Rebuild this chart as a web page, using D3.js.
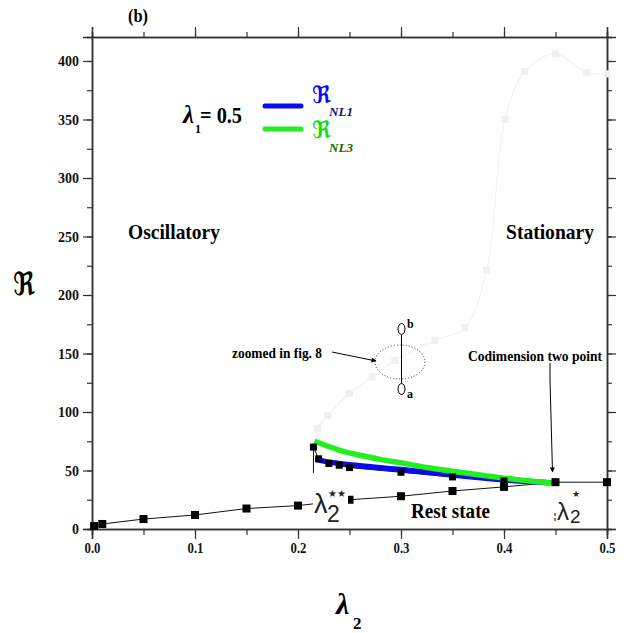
<!DOCTYPE html>
<html><head><meta charset="utf-8">
<script src="https://cdn.jsdelivr.net/npm/d3@7"></script>
<style>body{margin:0;background:#fff}svg{display:block}</style>
</head><body>
<svg id="c" width="629" height="633"></svg>
<script>
// ---- data ----
const xTicks = [0.0, 0.1, 0.2, 0.3, 0.4, 0.5];
const yTicks = [0, 50, 100, 150, 200, 250, 300, 350, 400];
const restLam = [0.002, 0.01, 0.05, 0.1, 0.15, 0.2, 0.25, 0.3, 0.35, 0.4, 0.45, 0.5];
const restR   = [2.5, 4.3, 8.5, 12, 17.5, 20, 25, 28, 32.5, 36, 40, 40];
const upperLam = [0.215, 0.22, 0.23, 0.24, 0.25, 0.3, 0.35, 0.4, 0.45];
const upperR   = [70, 60, 56, 54.5, 52.5, 48.5, 44.5, 41, 40];
const vertLam = [0.215, 0.215];
const vertR   = [70, 48];
const nl1Lam = [0.217, 0.225, 0.24, 0.26, 0.28, 0.3, 0.325, 0.35, 0.375, 0.4, 0.425, 0.445];
const nl1R   = [59.5, 58, 56, 54, 52.3, 50.8, 48.5, 46.2, 44, 42, 40.5, 39.5];
const nl3Lam = [0.216, 0.225, 0.24, 0.26, 0.28, 0.3, 0.325, 0.35, 0.375, 0.4, 0.425, 0.45];
const nl3R   = [75, 72, 67.5, 63, 59.5, 56.5, 52.5, 49.3, 46.3, 43.5, 41, 39];
const grayLam = [0.217, 0.219, 0.229, 0.25, 0.272, 0.294, 0.333, 0.362, 0.383, 0.401, 0.42, 0.45, 0.48, 0.5];
const grayR   = [76, 86, 97, 116, 130, 144, 161, 172, 221, 350, 391, 406, 390, 389];

const svg = d3.select("#c");
const x = d3.scaleLinear().domain([0, 0.5]).range([92, 607]);
const y = d3.scaleLinear().domain([0, 420.5]).range([529, 37]);
const serif = "'Liberation Serif','Times New Roman',serif";
const zip = (a, b) => a.map((v, i) => [v, b[i]]);
const line = d3.line().x(d => x(d[0])).y(d => y(d[1]));

// ---- axes ----
const axCol = "#333";
function styleAxis(g) {
  g.selectAll(".domain").attr("stroke", axCol).attr("stroke-width", 1.5);
  g.selectAll(".tick line").attr("stroke", axCol).attr("stroke-width", 1.2);
}
const xMinor = d3.range(0, 0.501, 0.05);
const yMinor = d3.range(0, 420, 25);
// bottom
svg.append("g").attr("transform", "translate(0,529)")
  .call(d3.axisBottom(x).tickValues(xMinor).tickSize(6).tickFormat("")).call(styleAxis);
const gb = svg.append("g").attr("transform", "translate(0,529)")
  .call(d3.axisBottom(x).tickValues(xTicks).tickSize(10).tickFormat(d3.format(".1f"))).call(styleAxis);
gb.selectAll("text").attr("font-family", serif).attr("font-weight", "bold").attr("font-size", 15)
  .attr("fill", "#111").attr("y", 13).attr("textLength", 16).attr("lengthAdjust", "spacingAndGlyphs");
// top
svg.append("g").attr("transform", "translate(0,37)")
  .call(d3.axisTop(x).tickValues(xMinor).tickSize(5).tickFormat("")).call(styleAxis);
svg.append("g").attr("transform", "translate(0,37)")
  .call(d3.axisTop(x).tickValues(xTicks).tickSize(10).tickFormat("")).call(styleAxis);
// left
svg.append("g").attr("transform", "translate(92,0)")
  .call(d3.axisLeft(y).tickValues(yMinor).tickSize(5).tickFormat("")).call(styleAxis);
const gl = svg.append("g").attr("transform", "translate(92,0)")
  .call(d3.axisLeft(y).tickValues(yTicks).tickSize(9).tickFormat(d3.format("d"))).call(styleAxis);
gl.selectAll("text").attr("font-family", serif).attr("font-weight", "bold").attr("font-size", 15)
  .attr("fill", "#111").attr("x", -13)
  .attr("textLength", d => String(d).length * 7).attr("lengthAdjust", "spacingAndGlyphs");
// right
svg.append("g").attr("transform", "translate(607,0)")
  .call(d3.axisRight(y).tickValues(yMinor).tickSize(5).tickFormat("")).call(styleAxis);
svg.append("g").attr("transform", "translate(607,0)")
  .call(d3.axisRight(y).tickValues(yTicks).tickSize(9).tickFormat("")).call(styleAxis);

// ---- faint gray curve ----
svg.append("path").datum(zip(grayLam, grayR))
  .attr("d", line.curve(d3.curveCatmullRom.alpha(0.5)))
  .attr("fill", "none").attr("stroke", "#f3f3f3").attr("stroke-width", 1.2);
line.curve(d3.curveLinear);
svg.append("g").selectAll("rect").data(zip(grayLam, grayR).slice(1)).join("rect")
  .attr("x", d => x(d[0]) - 3.5).attr("y", d => y(d[1]) - 3.5)
  .attr("width", 7).attr("height", 7).attr("fill", "#f0f0f0");

// ---- rest-state line ----
svg.append("path").datum(zip(restLam, restR)).attr("d", line)
  .attr("fill", "none").attr("stroke", "#111").attr("stroke-width", 1);
svg.append("path").datum(zip(upperLam, upperR)).attr("d", line)
  .attr("fill", "none").attr("stroke", "#111").attr("stroke-width", 1);
svg.append("path").datum(zip(vertLam, vertR)).attr("d", line)
  .attr("fill", "none").attr("stroke", "#111").attr("stroke-width", 1);

// ---- NL curves ----
svg.append("path").datum(zip(nl1Lam, nl1R)).attr("d", line.curve(d3.curveMonotoneX))
  .attr("fill", "none").attr("stroke", "#0a0aee").attr("stroke-width", 5.5);
svg.append("path").datum(zip(nl3Lam, nl3R)).attr("d", line.curve(d3.curveMonotoneX))
  .attr("fill", "none").attr("stroke", "#22ee22").attr("stroke-width", 5.5);
line.curve(d3.curveLinear);

// squares
svg.append("g").selectAll("rect").data(zip(upperLam, upperR)).join("rect")
  .attr("x", d => x(d[0]) - 3.5).attr("y", d => y(d[1]) - 3.5)
  .attr("width", 7).attr("height", 7).attr("fill", "#000");
svg.append("g").selectAll("rect").data(zip(restLam, restR)).join("rect")
  .attr("x", d => x(d[0]) - 4).attr("y", d => y(d[1]) - 4)
  .attr("width", 8).attr("height", 8).attr("fill", "#000");

// ---- annotations ----
svg.append("text").attr("x", 128).attr("y", 22).attr("font-family", serif).attr("font-weight", "bold")
  .attr("font-size", 18).attr("textLength", 20).attr("lengthAdjust", "spacingAndGlyphs").text("(b)");

// lambda1 = 0.5
svg.append("text").attr("x", 183).attr("y", 123).attr("font-family", serif).attr("font-weight", "bold")
  .attr("font-style", "italic").attr("font-size", 25).text("λ");
svg.append("text").attr("x", 195).attr("y", 133).attr("font-family", serif).attr("font-weight", "bold")
  .attr("font-size", 12).text("1");
svg.append("text").attr("x", 200).attr("y", 123).attr("font-family", serif).attr("font-weight", "bold")
  .attr("font-size", 24).attr("textLength", 42).attr("lengthAdjust", "spacingAndGlyphs").text("= 0.5");

// legend
const frak = "'DejaVu Serif','DejaVu Sans',serif";
svg.append("line").attr("x1", 265).attr("x2", 301).attr("y1", 106).attr("y2", 106)
  .attr("stroke", "#0a0aee").attr("stroke-width", 5).attr("stroke-linecap", "round");
svg.append("line").attr("x1", 265).attr("x2", 301).attr("y1", 129).attr("y2", 129)
  .attr("stroke", "#22ee22").attr("stroke-width", 5).attr("stroke-linecap", "round");
svg.append("text").attr("x", 312).attr("y", 103).attr("font-family", frak).attr("font-size", 24)
  .attr("font-weight", "bold").attr("fill", "#0a0aee")
  .attr("textLength", 19).attr("lengthAdjust", "spacingAndGlyphs").text("ℜ");
svg.append("text").attr("x", 329).attr("y", 116).attr("font-family", serif).attr("font-weight", "bold")
  .attr("font-style", "italic").attr("font-size", 12).attr("fill", "#101080")
  .attr("textLength", 24).attr("lengthAdjust", "spacingAndGlyphs").text("NL1");
svg.append("text").attr("x", 312).attr("y", 138).attr("font-family", frak).attr("font-size", 24)
  .attr("font-weight", "bold").attr("fill", "#10dd10")
  .attr("textLength", 19).attr("lengthAdjust", "spacingAndGlyphs").text("ℜ");
svg.append("text").attr("x", 329).attr("y", 152).attr("font-family", serif).attr("font-weight", "bold")
  .attr("font-style", "italic").attr("font-size", 12).attr("fill", "#0a6a0a")
  .attr("textLength", 24).attr("lengthAdjust", "spacingAndGlyphs").text("NL3");

// region labels
function lab(t, x0, y0, fs, w) {
  return svg.append("text").attr("x", x0).attr("y", y0).attr("font-family", serif).attr("font-weight", "bold")
    .attr("font-size", fs).attr("textLength", w).attr("lengthAdjust", "spacingAndGlyphs").attr("fill", "#000").text(t);
}
lab("Oscillatory", 128, 239, 21, 92);
lab("Stationary", 506, 239, 21, 88);
lab("Rest state", 411, 518, 22, 79);
lab("zoomed in fig. 8", 232, 358, 14, 90);
lab("Codimension two point", 468, 361, 14, 134);

// arrows
const defs = svg.append("defs");
defs.append("marker").attr("id", "ah").attr("viewBox", "0 0 10 10").attr("refX", 9).attr("refY", 5)
  .attr("markerWidth", 7).attr("markerHeight", 5).attr("orient", "auto")
  .append("path").attr("d", "M0,0 L10,5 L0,10 z").attr("fill", "#000");
svg.append("line").attr("x1", 332).attr("y1", 352).attr("x2", 376).attr("y2", 361)
  .attr("stroke", "#000").attr("stroke-width", 1).attr("marker-end", "url(#ah)");
svg.append("path").attr("d", "M550,363 L550,380 L552.5,472")
  .attr("fill", "none").attr("stroke", "#000").attr("stroke-width", 1).attr("marker-end", "url(#ah)");

// zoom ellipse + a/b
svg.append("ellipse").attr("cx", 400).attr("cy", 362).attr("rx", 25).attr("ry", 17)
  .attr("fill", "none").attr("stroke", "#333").attr("stroke-width", 1).attr("stroke-dasharray", "1,2");
svg.append("line").attr("x1", 401.5).attr("x2", 401.5).attr("y1", 335).attr("y2", 383)
  .attr("stroke", "#000").attr("stroke-width", 1);
svg.append("ellipse").attr("cx", 401.5).attr("cy", 329).attr("rx", 3.5).attr("ry", 5.5)
  .attr("fill", "#fff").attr("stroke", "#000").attr("stroke-width", 1);
svg.append("ellipse").attr("cx", 401.5).attr("cy", 389).attr("rx", 3.5).attr("ry", 5.5)
  .attr("fill", "#fff").attr("stroke", "#000").attr("stroke-width", 1);
svg.append("text").attr("x", 407).attr("y", 328).attr("font-family", serif).attr("font-weight", "bold")
  .attr("font-size", 12).text("b");
svg.append("text").attr("x", 407).attr("y", 398).attr("font-family", serif).attr("font-weight", "bold")
  .attr("font-size", 12).text("a");

// lambda2** label (white background covers line)
const sans = "'Liberation Sans','DejaVu Sans',sans-serif";
svg.append("rect").attr("x", 313).attr("y", 486).attr("width", 35).attr("height", 38).attr("fill", "#fff");
svg.append("text").attr("x", 314).attr("y", 513).attr("font-family", sans).attr("font-size", 27)
  .attr("font-weight", 300).attr("fill", "#222").text("λ");
svg.append("text").attr("x", 327).attr("y", 522).attr("font-family", sans).attr("font-size", 23)
  .attr("fill", "#222").text("2");
svg.append("text").attr("x", 328).attr("y", 497).attr("font-family", "'DejaVu Sans',sans-serif").attr("font-size", 10)
  .attr("fill", "#222").text("★★");
// lambda2* label
svg.append("line").attr("x1", 555).attr("x2", 555).attr("y1", 513).attr("y2", 523)
  .attr("stroke", "#000").attr("stroke-width", 1).attr("stroke-dasharray", "3,2");
svg.append("text").attr("x", 557).attr("y", 520).attr("font-family", sans).attr("font-size", 24)
  .attr("fill", "#222").text("λ");
svg.append("text").attr("x", 570).attr("y", 523).attr("font-family", sans).attr("font-size", 19)
  .attr("fill", "#222").text("2");
svg.append("text").attr("x", 572).attr("y", 497).attr("font-family", "'DejaVu Sans',sans-serif").attr("font-size", 9)
  .attr("fill", "#222").text("★");

// axis titles
svg.append("text").attr("x", 13).attr("y", 295).attr("font-family", frak).attr("font-size", 32)
  .attr("font-weight", "bold").attr("fill", "#000")
  .attr("textLength", 22).attr("lengthAdjust", "spacingAndGlyphs").text("ℜ");
svg.append("text").attr("x", 336).attr("y", 614).attr("font-family", serif).attr("font-weight", "bold")
  .attr("font-style", "italic").attr("font-size", 30).text("λ");
svg.append("text").attr("x", 353).attr("y", 629).attr("font-family", serif).attr("font-weight", "bold")
  .attr("font-size", 17).text("2");
</script>
</body></html>
